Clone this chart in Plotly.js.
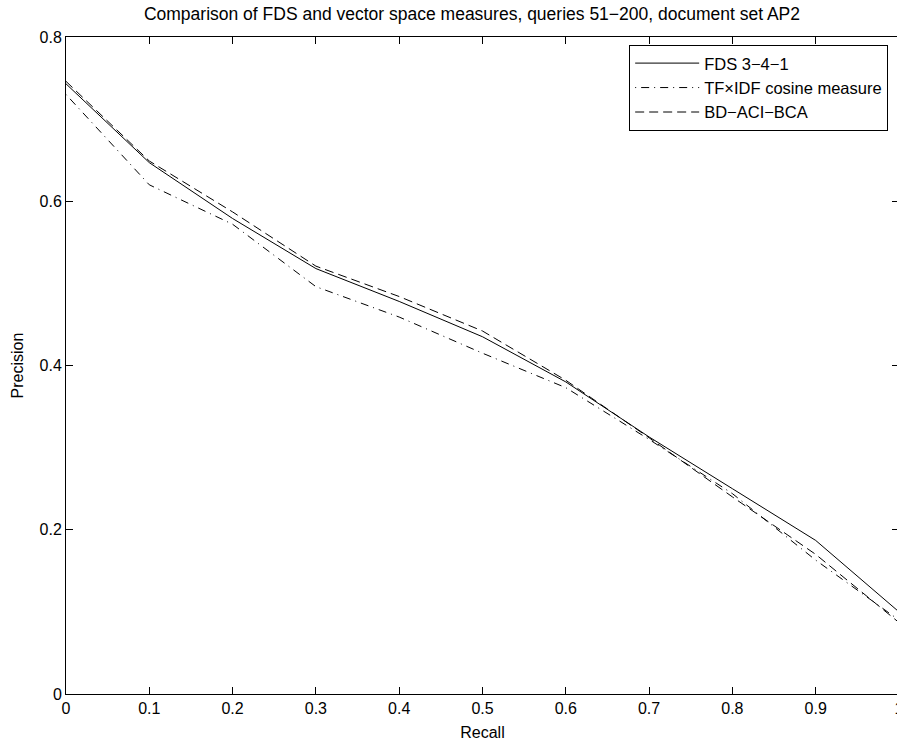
<!DOCTYPE html>
<html>
<head>
<meta charset="utf-8">
<script src="https://cdn.plot.ly/plotly-3.0.1.min.js"></script>
<style>html,body{margin:0;padding:0;background:#fff;overflow:hidden}#wrap{width:897px;height:742px;overflow:hidden}</style>
</head>
<body>
<div id="wrap"><div id="chart" style="width:899px;height:742px"></div></div>
<script>
const recall = [0, 0.1, 0.2, 0.3, 0.4, 0.5, 0.6, 0.7, 0.8, 0.9, 1.0];
const fds = [0.743, 0.647, 0.579, 0.518, 0.478, 0.435, 0.380, 0.313, 0.250, 0.187, 0.100];
const tfidf = [0.730, 0.620, 0.572, 0.496, 0.459, 0.415, 0.373, 0.310, 0.244, 0.163, 0.090];
const bdaci = [0.746, 0.649, 0.587, 0.521, 0.484, 0.442, 0.382, 0.312, 0.240, 0.170, 0.087];
const xTicks = [0, 0.1, 0.2, 0.3, 0.4, 0.5, 0.6, 0.7, 0.8, 0.9, 1];
const xTickText = ['0', '0.1', '0.2', '0.3', '0.4', '0.5', '0.6', '0.7', '0.8', '0.9', '1'];
const yTicks = [0, 0.2, 0.4, 0.6, 0.8];
const yTickText = ['0', '0.2', '0.4', '0.6', '0.8'];

const font = 'Liberation Sans, Arial, Helvetica, sans-serif';
const traces = [
  {x: recall, y: fds, name: 'FDS 3\u22124\u22121', mode: 'lines', line: {color: '#000', width: 1, dash: 'solid'}},
  {x: recall, y: tfidf, name: 'TF\u00d7IDF cosine measure', mode: 'lines', line: {color: '#000', width: 1, dash: '1px,5px,8px,5px'}},
  {x: recall, y: bdaci, name: 'BD\u2212ACI\u2212BCA', mode: 'lines', line: {color: '#000', width: 1, dash: '9px,5px'}}
];
const axisCommon = {
  showgrid: false, zeroline: false, showline: true, linecolor: '#000', linewidth: 1,
  mirror: 'ticks', ticks: 'inside', ticklen: 7, tickcolor: '#000', tickwidth: 1,
  ticklabeloverflow: 'allow',
  tickfont: {family: font, size: 16, color: '#000'}
};
const layout = {
  width: 899, height: 742,
  margin: {l: 66, r: 0, t: 37, b: 48},
  paper_bgcolor: '#fff', plot_bgcolor: '#fff',
  font: {family: font, color: '#000'},
  title: {text: 'Comparison of FDS and vector space measures, queries 51\u2212200, document set AP2',
          font: {family: font, size: 17.5, color: '#000'}, x: 0.525, xanchor: 'center', y: 0.981, yanchor: 'middle'},
  xaxis: Object.assign({}, axisCommon, {range: [0, 1], tickvals: xTicks, ticktext: xTickText,
          title: {text: 'Recall', font: {family: font, size: 16, color: '#000'}, standoff: 10}}),
  yaxis: Object.assign({}, axisCommon, {range: [0, 0.8], tickvals: yTicks, ticktext: yTickText,
          title: {text: 'Precision', font: {family: font, size: 16, color: '#000'}, standoff: 11}}),
  showlegend: true,
  legend: {x: 0.987, xanchor: 'right', y: 0.988, yanchor: 'top', bgcolor: '#fff',
           bordercolor: '#000', borderwidth: 1, font: {family: font, size: 16.5, color: '#000'},
           tracegroupgap: 0, itemwidth: 64}
};
Plotly.newPlot('chart', traces, layout, {displayModeBar: false, staticPlot: true});
</script>
</body>
</html>
